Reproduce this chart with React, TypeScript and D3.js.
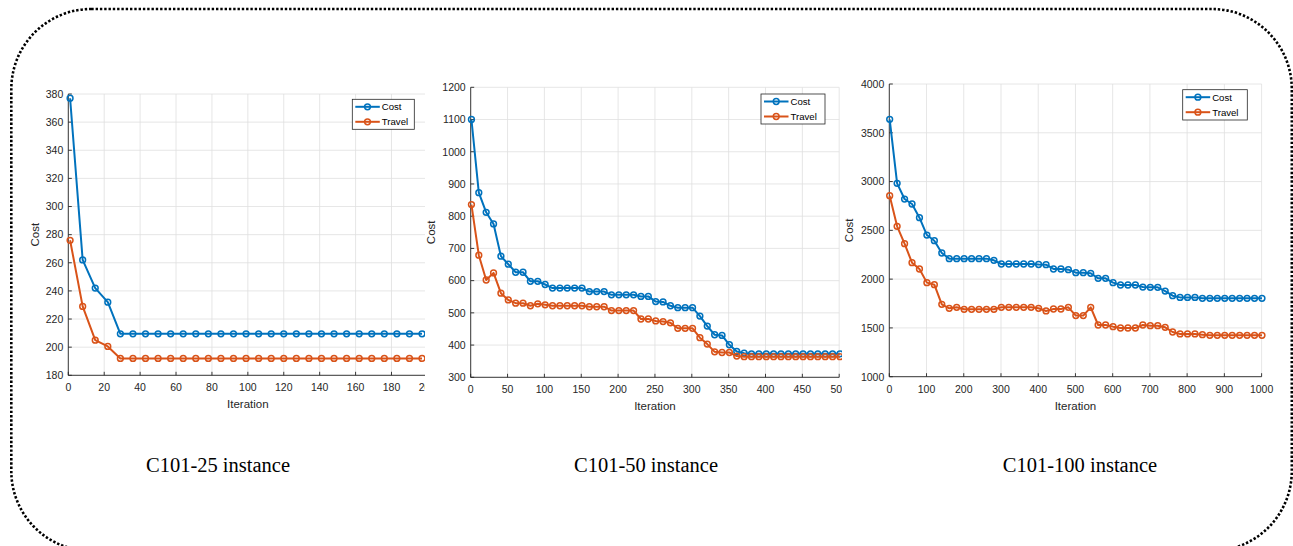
import * as d3 from "d3";

//  DATA
//-------------------------------------------------------//

const seriesNames = ["Cost", "Travel"];
const seriesColors = ["#0072BD", "#D95319"];
const captions = ["C101-25 instance", "C101-50 instance", "C101-100 instance"];

// C101-25
const iter25 = [1, 8, 15, 22, 29, 36, 43, 50, 57, 64, 71, 78, 85, 92, 99, 106, 113, 120, 127, 134, 141, 148, 155, 162, 169, 176, 183, 190, 197];
const cost25 = [377, 262, 242, 232, 209.5, 209.5, 209.5, 209.5, 209.5, 209.5, 209.5, 209.5, 209.5, 209.5, 209.5, 209.5, 209.5, 209.5, 209.5, 209.5, 209.5, 209.5, 209.5, 209.5, 209.5, 209.5, 209.5, 209.5, 209.5];
const travel25 = [276, 229, 205, 200.5, 192, 192, 192, 192, 192, 192, 192, 192, 192, 192, 192, 192, 192, 192, 192, 192, 192, 192, 192, 192, 192, 192, 192, 192, 192];
const xTicks25 = [0, 20, 40, 60, 80, 100, 120, 140, 160, 180, 200];
const yTicks25 = [180, 200, 220, 240, 260, 280, 300, 320, 340, 360, 380];

// C101-50
const iter50 = [1, 11, 21, 31, 41, 51, 61, 71, 81, 91, 101, 111, 121, 131, 141, 151, 161, 171, 181, 191, 201, 211, 221, 231, 241, 251, 261, 271, 281, 291, 301, 311, 321, 331, 341, 351, 361, 371, 381, 391, 401, 411, 421, 431, 441, 451, 461, 471, 481, 491, 501];
const cost50 = [1100, 873, 812, 776, 676, 651, 626, 626, 598, 598, 588, 577, 577, 577, 577, 577, 566, 566, 566, 556, 556, 556, 556, 551, 551, 535, 534, 522, 516, 516, 516, 490, 459, 432, 430, 401, 380, 375, 373, 373, 373, 373, 373, 373, 373, 373, 373, 373, 373, 373, 373];
const travel50 = [836, 679, 602, 624, 561, 540, 530, 530, 522, 528, 525, 522, 522, 522, 522, 522, 519, 519, 519, 507, 507, 507, 507, 481, 481, 475, 473, 469, 452, 452, 452, 423, 403, 379, 377, 377, 366, 364, 364, 364, 364, 364, 364, 364, 364, 364, 364, 364, 364, 364, 364];
const xTicks50 = [0, 50, 100, 150, 200, 250, 300, 350, 400, 450, 500];
const yTicks50 = [300, 400, 500, 600, 700, 800, 900, 1000, 1100, 1200];

// C101-100
const iter100 = [1, 21, 41, 61, 81, 101, 121, 141, 161, 181, 201, 221, 241, 261, 281, 301, 321, 341, 361, 381, 401, 421, 441, 461, 481, 501, 521, 541, 561, 581, 601, 621, 641, 661, 681, 701, 721, 741, 761, 781, 801, 821, 841, 861, 881, 901, 921, 941, 961, 981, 1001];
const cost100 = [3638, 2982, 2821, 2770, 2630, 2452, 2394, 2268, 2210, 2210, 2210, 2210, 2210, 2210, 2193, 2155, 2155, 2155, 2155, 2155, 2150, 2148, 2104, 2104, 2097, 2066, 2066, 2060, 2008, 2008, 1964, 1940, 1940, 1940, 1919, 1916, 1916, 1878, 1830, 1813, 1813, 1813, 1803, 1803, 1803, 1803, 1803, 1803, 1803, 1803, 1803];
const travel100 = [2855, 2541, 2363, 2169, 2104, 1964, 1943, 1742, 1701, 1711, 1691, 1691, 1691, 1691, 1691, 1711, 1711, 1711, 1711, 1711, 1701, 1674, 1694, 1694, 1711, 1626, 1626, 1711, 1530, 1530, 1513, 1499, 1499, 1499, 1530, 1523, 1523, 1506, 1458, 1438, 1438, 1438, 1431, 1424, 1424, 1424, 1424, 1424, 1424, 1424, 1424];
const xTicks100 = [0, 100, 200, 300, 400, 500, 600, 700, 800, 900, 1000];
const yTicks100 = [1000, 1500, 2000, 2500, 3000, 3500, 4000];

//  LAYOUT
//-------------------------------------------------------//

const W = 1293;
const H = 546;
const FONT = "'Liberation Sans', Arial, Helvetica, sans-serif";
const INK = "#262626";

const panels = [
  {
    iter: iter25, series: [cost25, travel25], xTicks: xTicks25, yTicks: yTicks25,
    xRange: [68.3, 427.4], yRange: [375.3, 94], clip: [0, 425],
    legend: { x: 352.3, y: 99.3, w: 62, h: 30 }, yLabelX: 35, captionX: 218,
  },
  {
    iter: iter50, series: [cost50, travel50], xTicks: xTicks50, yTicks: yTicks50,
    xRange: [470.7, 839.2], yRange: [377.3, 87.3], clip: [425, 842],
    legend: { x: 761, y: 94, w: 64, h: 30 }, yLabelX: 431, captionX: 646,
  },
  {
    iter: iter100, series: [cost100, travel100], xTicks: xTicks100, yTicks: yTicks100,
    xRange: [889.3, 1261.6], yRange: [376.7, 84], clip: [842, W],
    legend: { x: 1182.7, y: 89.7, w: 64.6, h: 30.3 }, yLabelX: 849, captionX: 1080,
  },
];

//  PANEL
//-------------------------------------------------------//

function Panel({ p, idx }) {
  const x = d3.scaleLinear([p.xTicks[0], p.xTicks[p.xTicks.length - 1]], p.xRange);
  const y = d3.scaleLinear([p.yTicks[0], p.yTicks[p.yTicks.length - 1]], p.yRange);
  const [x0, x1] = p.xRange;
  const [yb, yt] = p.yRange;
  const clipId = `clip-${idx}`;

  return (
    <g>
      <defs>
        <clipPath id={clipId}>
          <rect x={p.clip[0]} y={0} width={p.clip[1] - p.clip[0]} height={H} />
        </clipPath>
      </defs>
      <g clipPath={`url(#${clipId})`}>
        {/* grid */}
        <g stroke="#dfdfdf" strokeWidth={0.8}>
          {p.xTicks.map((t) => (
            <line key={"gx" + t} x1={x(t)} x2={x(t)} y1={yb} y2={yt} />
          ))}
          {p.yTicks.map((t) => (
            <line key={"gy" + t} x1={x0} x2={x1} y1={y(t)} y2={y(t)} />
          ))}
        </g>

        {/* axes */}
        <g stroke={INK} strokeWidth={0.9}>
          <line x1={x0} x2={x1} y1={yb} y2={yb} />
          <line x1={x0} x2={x0} y1={yb} y2={yt} />
          {p.xTicks.map((t) => (
            <line key={"tx" + t} x1={x(t)} x2={x(t)} y1={yb} y2={yb - 3.5} />
          ))}
          {p.yTicks.map((t) => (
            <line key={"ty" + t} x1={x0} x2={x0 + 3.5} y1={y(t)} y2={y(t)} />
          ))}
        </g>

        {/* tick labels */}
        <g fontFamily={FONT} fontSize={10.5} fill={INK}>
          {p.xTicks.map((t) => (
            <text key={"lx" + t} x={x(t)} y={yb + 16} textAnchor="middle">{t}</text>
          ))}
          {p.yTicks.map((t) => (
            <text key={"ly" + t} x={x0 - 5} y={y(t) + 3.8} textAnchor="end">{t}</text>
          ))}
        </g>

        <text x={(x0 + x1) / 2} y={yb + 33} textAnchor="middle" fontFamily={FONT} fontSize={11.5} fill={INK}>
          Iteration
        </text>
        <text
          transform={`translate(${p.yLabelX},${(yb + yt) / 2}) rotate(-90)`}
          y={4}
          textAnchor="middle"
          fontFamily={FONT}
          fontSize={11.5}
          fill={INK}
        >
          Cost
        </text>

        {/* series */}
        {p.series.map((vals, si) => {
          const pts = p.iter.map((it, i) => [x(it), y(vals[i])]);
          return (
            <g key={"s" + si} stroke={seriesColors[si]} fill="none">
              <path d={d3.line()(pts)} strokeWidth={2} strokeLinejoin="round" />
              {pts.map((d, i) => (
                <circle key={i} cx={d[0]} cy={d[1]} r={2.9} strokeWidth={1.5} />
              ))}
            </g>
          );
        })}

        {/* legend */}
        <g>
          <rect x={p.legend.x} y={p.legend.y} width={p.legend.w} height={p.legend.h} fill="white" stroke={INK} strokeWidth={0.8} />
          {seriesNames.map((name, si) => {
            const ry = p.legend.y + 7.5 + si * 15;
            const lx = p.legend.x + 3;
            return (
              <g key={name}>
                <line x1={lx} x2={lx + 24.5} y1={ry} y2={ry} stroke={seriesColors[si]} strokeWidth={2} />
                <circle cx={lx + 12.2} cy={ry} r={2.9} fill="none" stroke={seriesColors[si]} strokeWidth={1.5} />
                <text x={lx + 26.5} y={ry + 3.4} fontFamily={FONT} fontSize={9.6} fill="#000">{name}</text>
              </g>
            );
          })}
        </g>
      </g>

      <text x={p.captionX} y={472.3} textAnchor="middle" fontFamily="'Liberation Serif', 'Times New Roman', serif" fontSize={20.5} fill="#000">
        {captions[idx]}
      </text>
    </g>
  );
}

//  MAIN
//-------------------------------------------------------//

export default function App() {
  return (
    <svg width={W} height={H} style={{ position: "absolute", left: 0, top: 0, background: "white" }}>
      <rect x={0} y={0} width={W} height={H} fill="white" />
      <rect
        x={11.3}
        y={9}
        width={1280.5}
        height={542}
        rx={80}
        ry={80}
        fill="none"
        stroke="#000"
        strokeWidth={2.6}
        strokeDasharray="2.4 1.9"
      />
      {panels.map((p, i) => (
        <Panel key={i} p={p} idx={i} />
      ))}
    </svg>
  );
}
